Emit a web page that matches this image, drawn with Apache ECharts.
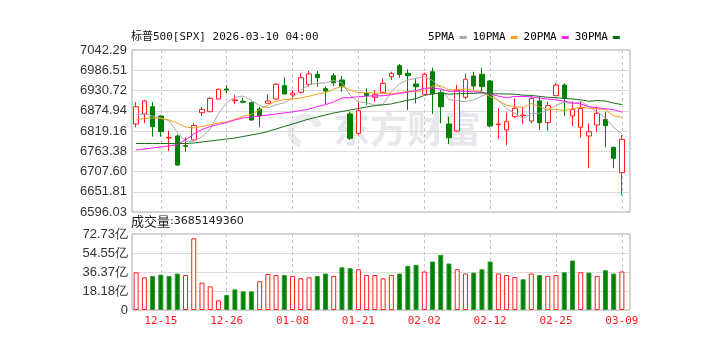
<!DOCTYPE html>
<html><head><meta charset="utf-8">
<script src="https://cdn.jsdelivr.net/npm/echarts@6/dist/echarts.min.js"></script>
<style>html,body{margin:0;padding:0;background:#fff}#c{width:722px;height:354px}</style>
</head><body><div id="c"></div>
<script>
const dates = ['12-10','12-11','12-12','12-15','12-16','12-17','12-18','12-19','12-22','12-23','12-24','12-26','12-29','12-30','12-31',
 '01-02','01-05','01-06','01-07','01-08','01-09','01-12','01-13','01-14','01-15','01-16','01-20','01-21','01-22','01-23','01-26','01-27','01-28','01-29','01-30',
 '02-02','02-03','02-04','02-05','02-06','02-09','02-10','02-11','02-12','02-13','02-17','02-18','02-19','02-20','02-23','02-24','02-25','02-26','02-27',
 '03-02','03-03','03-04','03-05','03-06','03-09'];
const open = [6838.4,6866.0,6886.1,6860.5,6799.9,6805.4,6778.7,6794.4,6869.6,6872.3,6907.3,6934.9,6902.6,6901.0,6897.1,6879.8,6895.5,6907.3,6944.0,6918.3,6925.8,6947.8,6975.4,6935.7,6971.5,6959.7,6866.0,6812.8,6923.0,6912.0,6925.8,6968.7,6999.0,6978.1,6948.6,6920.3,6982.5,6924.7,6838.4,6819.2,6912.0,6970.7,6975.4,6956.9,6836.5,6821.9,6858.6,6861.3,6846.7,6901.8,6842.0,6916.4,6945.9,6860.5,6829.4,6805.4,6835.7,6851.4,6774.3,6704.3];
const close = [6886.1,6901.8,6831.0,6817.2,6801.8,6725.5,6777.0,6834.3,6878.9,6909.2,6934.0,6932.1,6904.6,6898.2,6849.5,6860.5,6901.8,6947.8,6921.0,6923.5,6966.0,6976.2,6966.0,6929.4,6952.2,6941.2,6799.1,6875.1,6917.0,6919.0,6950.6,6978.1,6975.0,6971.5,6941.2,6975.4,6921.1,6886.1,6800.7,6930.2,6961.6,6943.1,6941.5,6832.9,6838.4,6844.8,6881.7,6863.2,6909.2,6842.0,6888.9,6945.9,6909.2,6878.9,6881.7,6817.2,6867.9,6833.8,6744.0,6796.3];
const high = [6899.0,6904.6,6899.0,6863.2,6820.0,6809.5,6800.7,6841.2,6885.3,6912.0,6935.7,6945.9,6918.3,6910.9,6899.9,6886.1,6920.3,6950.6,6967.1,6932.1,6978.1,6984.5,6984.5,6941.2,6978.1,6970.7,6872.3,6899.9,6936.8,6932.1,6964.3,6982.5,7003.7,6989.1,6964.3,6979.8,6993.5,6932.1,6858.6,6945.9,6978.1,6982.5,6993.5,6959.7,6881.7,6869.6,6909.2,6886.1,6913.7,6915.6,6899.9,6952.2,6950.6,6899.9,6899.9,6840.4,6886.1,6872.3,6775.9,6808.2];
const low = [6829.4,6840.4,6803.5,6803.5,6764.1,6722.8,6762.1,6791.6,6860.5,6871.5,6906.5,6923.8,6892.7,6895.5,6847.5,6829.4,6895.5,6906.5,6921.0,6909.2,6923.0,6941.2,6941.2,6893.5,6944.0,6927.4,6794.4,6808.1,6890.8,6899.9,6923.0,6959.7,6966.0,6877.0,6895.5,6918.3,6866.0,6840.4,6783.4,6817.2,6906.5,6934.0,6924.7,6829.4,6797.1,6780.6,6854.2,6838.4,6840.4,6821.9,6820.0,6915.6,6860.5,6832.9,6800.7,6716.4,6817.2,6774.3,6716.4,6642.9];
const ma5 = [6863.2,6866.0,6860.5,6855.0,6847.5,6815.6,6790.5,6791.1,6803.5,6825.0,6866.8,6897.7,6911.7,6915.6,6903.7,6888.9,6882.8,6891.6,6896.6,6910.9,6931.8,6946.7,6950.6,6951.7,6958.0,6953.0,6917.5,6899.3,6897.7,6890.2,6892.2,6928.0,6949.2,6959.4,6964.3,6969.3,6958.0,6939.0,6904.8,6902.6,6899.9,6904.3,6915.9,6922.2,6903.7,6880.6,6868.2,6852.2,6867.4,6868.2,6877.0,6890.0,6899.1,6893.0,6901.0,6886.7,6871.0,6855.8,6828.8,6811.7];
const ma10 = [6849.5,6853.6,6855.0,6853.6,6849.5,6841.2,6830.2,6827.4,6831.6,6836.2,6841.2,6844.2,6851.4,6859.7,6864.3,6877.8,6890.2,6901.5,6905.9,6907.3,6910.3,6914.8,6921.1,6924.1,6934.3,6942.6,6932.1,6924.9,6924.7,6924.1,6922.5,6922.7,6924.1,6928.5,6927.4,6930.7,6942.9,6944.0,6932.1,6933.5,6934.6,6931.3,6927.4,6913.7,6903.2,6890.2,6886.4,6883.9,6894.9,6886.1,6878.7,6878.9,6875.6,6880.3,6884.5,6881.7,6880.3,6877.6,6861.0,6856.4];
const ma20 = [6766.8,6769.6,6772.3,6775.1,6777.8,6782.0,6794.4,6810.9,6823.3,6831.6,6837.1,6842.6,6849.5,6855.0,6857.7,6860.5,6863.2,6866.0,6868.8,6871.8,6875.6,6879.5,6886.1,6891.9,6899.3,6910.1,6911.2,6913.4,6915.3,6915.6,6916.4,6918.9,6922.7,6926.3,6930.7,6936.5,6937.6,6934.6,6928.3,6928.8,6928.5,6926.9,6925.8,6921.1,6915.3,6910.3,6914.5,6913.9,6913.4,6909.8,6906.8,6905.1,6901.5,6896.9,6893.8,6886.1,6883.4,6880.6,6877.8,6871.2];
const ma30 = [6784.7,6784.7,6784.7,6784.7,6784.7,6784.7,6784.7,6786.1,6788.9,6791.6,6794.4,6797.1,6799.9,6804.0,6808.2,6812.3,6817.8,6824.7,6831.6,6838.4,6845.3,6852.2,6857.7,6863.2,6868.8,6872.9,6877.0,6881.2,6885.3,6889.1,6891.3,6893.8,6898.8,6904.0,6908.7,6917.0,6921.9,6923.6,6920.8,6921.6,6922.5,6923.0,6924.1,6921.9,6921.6,6921.1,6920.5,6917.8,6917.2,6914.5,6912.0,6910.9,6909.0,6907.3,6905.1,6901.0,6903.2,6901.8,6896.0,6891.9];
// volume in 亿 (1e8)
const volume = [36.1,31.3,32.6,33.9,32.6,34.9,33.5,68.6,26.2,22.6,9.2,14.3,19.7,17.8,17.8,27.5,34.5,33.5,33.5,32.6,30.3,31.3,32.6,34.9,32.6,40.9,40.0,39.0,33.5,33.5,30.3,33.5,34.9,42.2,43.2,36.8,46.4,52.8,44.5,39.0,34.9,35.8,39.0,46.4,34.9,33.5,31.6,29.4,34.9,33.5,32.6,33.5,36.1,47.4,36.1,35.8,32.6,38.1,34.9,36.85];
const priceTicks = ['6596.03','6651.81','6707.60','6763.38','6819.16','6874.94','6930.72','6986.51','7042.29'];
const volumeTicks = ['0','18.18亿','36.37亿','54.55亿','72.73亿'];
const priceMin = 6596.03, priceMax = 7042.29, volumeMax = 72.73;
const titleText = '标普500[SPX] 2026-03-10 04:00';
const lastVolume = '3685149360';
const maNames = ['5PMA','10PMA','20PMA','30PMA'];

const RED = '#ff1c1c', GREEN = '#008000';
const candleData = open.map((o,i)=>[o, close[i], low[i], high[i]]);
const volData = volume.map((v,i)=>{
  const up = i === 0 ? close[0] >= open[0] : close[i] >= close[i-1];
  return {value: v, itemStyle: up ? {color:'#ffffff', borderColor:RED, borderWidth:1} : {color:GREEN, borderColor:'#2f9a2f', borderWidth:1}};
});
const labelInterval = (idx) => (idx - 3) % 8 === 0;
const vSplit = {show:true, alignWithLabel:true, interval: labelInterval, lineStyle:{color:'#c4c4c4', type:[3,3], width:1}};
const hSplit = (n) => ({show:true, interval:(i)=> i>0 && i<n-1, lineStyle:{color:'#dcdcdc', width:1}});
const labelFont = {color:'#333', fontSize:13, fontFamily:'Liberation Sans'};

const chart = echarts.init(document.getElementById('c'), null, {renderer:'canvas'});
chart.setOption({
  animation:false,
  backgroundColor:'#fff',
  title:[
    {text:titleText, left:131, top:32, padding:0, textStyle:{fontSize:11, fontWeight:'normal', color:'#111', fontFamily:"'DejaVu Sans Mono','Noto Sans CJK SC'"}},
    {text:'{a|成交量}{b|:' + lastVolume + '}', left:131, top:215, padding:0,
     textStyle:{fontWeight:'normal', rich:{a:{fontFamily:'Noto Sans CJK SC', fontSize:13, fontWeight:'normal', color:'#222'}, b:{fontFamily:'DejaVu Sans', fontSize:11, fontWeight:'normal', color:'#222'}}}}
  ],
  legend:{data:maNames, left:428, top:32, icon:'rect', itemWidth:7, itemHeight:3, itemGap:6, align:'right', selectedMode:false, padding:0,
    textStyle:{fontFamily:'DejaVu Sans Mono', fontSize:11, color:'#000'}},
  graphic:[
    {type:'arc', z:0, silent:true, shape:{cx:305, cy:131, r:14, startAngle:Math.PI*0.6, endAngle:Math.PI*1.9}, style:{stroke:'#ebebef', lineWidth:7, fill:null}},
    {type:'text', z:0, silent:true, left:333, top:110, style:{text:'东方财富', fill:'#e8e8ec', font:'bold 37px "Noto Sans CJK SC"'}}
  ],
  grid:[
    {left:132, top:50, width:498, height:162, show:true, borderColor:'#a8a8a8', borderWidth:1, backgroundColor:'transparent'},
    {left:132, top:50, width:494, height:162},
    {left:132, top:234, width:498, height:76, show:true, borderColor:'#a8a8a8', borderWidth:1, backgroundColor:'transparent'},
    {left:132, top:234, width:494, height:76}
  ],
  xAxis:[
    {gridIndex:0, type:'category', data:dates, show:false},
    {gridIndex:1, type:'category', data:dates, boundaryGap:true, axisLine:{show:false}, axisTick:{show:false}, axisLabel:{show:false}, splitLine:vSplit},
    {gridIndex:2, type:'category', data:dates, show:false},
    {gridIndex:3, type:'category', data:dates, boundaryGap:true, axisLine:{show:false}, axisTick:{show:false},
      axisLabel:{show:true, interval:labelInterval, color:RED, fontFamily:'DejaVu Sans Mono', fontSize:11, margin:6}, splitLine:vSplit}
  ],
  yAxis:[
    {gridIndex:0, type:'category', data:priceTicks, boundaryGap:false, axisLine:{show:false}, axisTick:{show:false}, axisLabel:Object.assign({margin:5}, labelFont), splitLine:hSplit(priceTicks.length)},
    {gridIndex:1, type:'value', min:priceMin, max:priceMax, show:false, splitLine:{show:false}},
    {gridIndex:2, type:'category', data:volumeTicks, boundaryGap:false, axisLine:{show:false}, axisTick:{show:false}, axisLabel:Object.assign({margin:4}, labelFont), splitLine:hSplit(volumeTicks.length)},
    {gridIndex:3, type:'value', min:0, max:volumeMax, show:false, splitLine:{show:false}}
  ],
  series:[
    {type:'candlestick', xAxisIndex:1, yAxisIndex:1, data:candleData, barWidth:5,
      itemStyle:{color:'#ffffff', color0:GREEN, borderColor:RED, borderColor0:GREEN, borderWidth:1}},
    {name:'5PMA', type:'line', xAxisIndex:1, yAxisIndex:1, data:ma5, showSymbol:false, symbol:'none', lineStyle:{color:'#a9a9a9', width:1}, itemStyle:{color:'#a9a9a9'}},
    {name:'10PMA', type:'line', xAxisIndex:1, yAxisIndex:1, data:ma10, showSymbol:false, symbol:'none', lineStyle:{color:'#f2a11f', width:1}, itemStyle:{color:'#f2a11f'}},
    {name:'20PMA', type:'line', xAxisIndex:1, yAxisIndex:1, data:ma20, showSymbol:false, symbol:'none', lineStyle:{color:'#ff1aff', width:1}, itemStyle:{color:'#ff1aff'}},
    {name:'30PMA', type:'line', xAxisIndex:1, yAxisIndex:1, data:ma30, showSymbol:false, symbol:'none', lineStyle:{color:'#1b6e1b', width:1}, itemStyle:{color:'#0a6b1a'}},
    {type:'bar', xAxisIndex:3, yAxisIndex:3, data:volData, barWidth:5}
  ]
});
</script></body></html>
